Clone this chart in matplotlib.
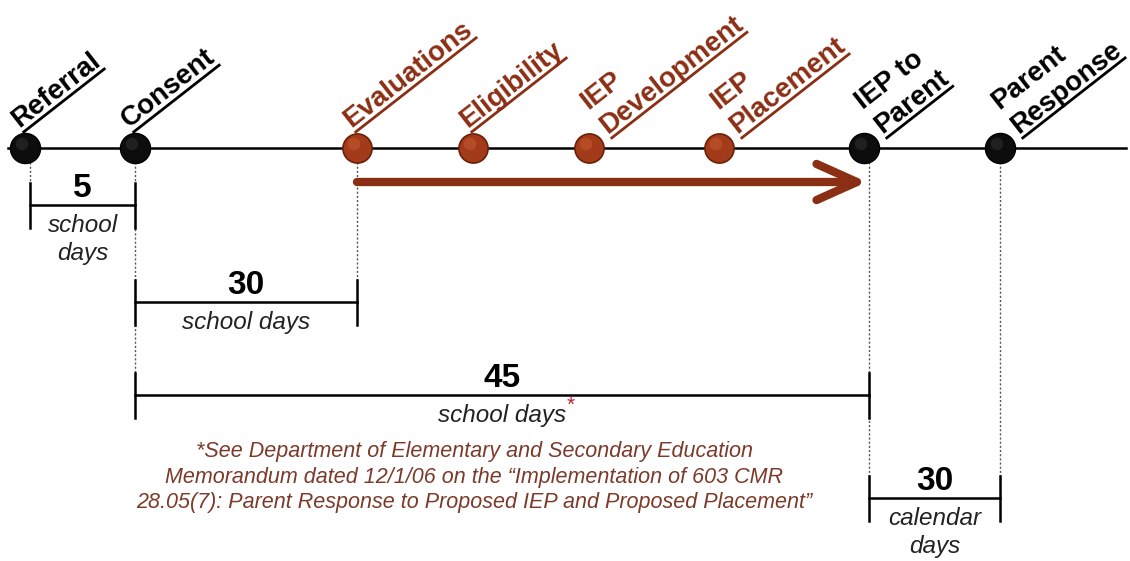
import numpy as np
import matplotlib.pyplot as plt

# timeline events (position along the line, label lines, colour group)
events = ['Referral', 'Consent', 'Evaluations', 'Eligibility', 'IEP\nDevelopment',
          'IEP\nPlacement', 'IEP to\nParent', 'Parent\nResponse']
event_pos = [25, 135, 357, 473, 589, 719, 864, 1000]
event_group = ['key', 'key', 'eval', 'eval', 'eval', 'eval', 'key', 'key']

# time spans between events: (start event, end event, number, unit lines)
span_start = [0, 1, 1, 6]
span_end = [1, 2, 6, 7]
span_value = ['5', '30', '45', '30']
span_unit = ['school\ndays', 'school days', 'school days', 'calendar\ndays']
span_level = [205, 302, 395, 498]

footnote = ['*See Department of Elementary and Secondary Education',
            'Memorandum dated 12/1/06 on the \u201cImplementation of 603 CMR',
            '28.05(7): Parent Response to Proposed IEP and Proposed Placement\u201d']

BROWN = '#8b2f14'
BROWN_TXT = '#7b3a2a'
W, H = 1130, 561
LINE_Y = 148
ANG = 38

fig = plt.figure(figsize=(W / 100, H / 100), dpi=100)
ax = fig.add_axes([0, 0, 1, 1])
ax.set_xlim(0, W)
ax.set_ylim(H, 0)
ax.axis('off')

# main timeline with arrow at the right edge
ax.plot([8, W - 4], [LINE_Y, LINE_Y], color='black', lw=1.8, zorder=1)
ax.annotate('', xy=(W + 2, LINE_Y), xytext=(W - 12, LINE_Y),
            arrowprops=dict(arrowstyle='->', color='black', lw=1.5, mutation_scale=12))

# process arrow from evaluations to IEP to parent
ax.annotate('', xy=(event_pos[6] + 3, 182), xytext=(event_pos[2], 182),
            arrowprops=dict(arrowstyle='->,head_length=1.45,head_width=0.65',
                            color=BROWN, lw=6, mutation_scale=20, shrinkA=0, shrinkB=0),
            zorder=2)

# dots
for x, g in zip(event_pos, event_group):
    if g == 'key':
        ax.scatter([x], [LINE_Y], s=470, color='#0d0d0d', edgecolors='#000000', zorder=3)
        ax.scatter([x - 3], [LINE_Y - 4], s=80, color='#333333', edgecolors='none', zorder=4, alpha=0.5)
    else:
        ax.scatter([x], [LINE_Y], s=440, color='#a33b1a', edgecolors='#6b2008', lw=1.2, zorder=3)
        ax.scatter([x - 3], [LINE_Y - 4], s=80, color='#c4592f', edgecolors='none', zorder=4, alpha=0.6)

# labels, rotated with the last line underlined
fig.canvas.draw()
renderer = fig.canvas.get_renderer()
th = np.deg2rad(ANG)
along = np.array([np.cos(th), -np.sin(th)])
perp_up = np.array([-np.sin(th), -np.cos(th)])
fs = 20
lh = 31
for x, name, g in zip(event_pos, events, event_group):
    col = 'black' if g == 'key' else BROWN
    lines = name.split('\n')
    if len(lines) == 1:
        base = np.array([x - 6, 128])
    else:
        base = np.array([x + 18, 134])
    for k, line in enumerate(reversed(lines)):
        p = base + perp_up * lh * k
        ax.text(p[0], p[1], line, rotation=ANG, rotation_mode='anchor',
                ha='left', va='baseline', fontsize=fs, fontweight='bold',
                family='Liberation Sans', color=col)
        if k == 0:
            tmp = ax.text(0, 0, line, fontsize=fs, fontweight='bold', family='Liberation Sans')
            wpx = tmp.get_window_extent(renderer).width
            tmp.remove()
            u0 = p - perp_up * 6
            u1 = u0 + along * wpx
            ax.plot([u0[0], u1[0]], [u0[1], u1[1]], color=col, lw=2, solid_capstyle='butt')

# dotted guides and span brackets
shift = {0: 5, 6: 5}
guide_bottom = {0: 185, 1: 375, 2: 280, 6: 480, 7: 480}
for i, yb in guide_bottom.items():
    x = event_pos[i] + shift.get(i, 0)
    ax.plot([x, x], [LINE_Y + 14, yb], color='#555555', lw=1, ls=(0, (1.5, 1.5)), zorder=0)

unit_texts = []
for s, e, v, u, yl in zip(span_start, span_end, span_value, span_unit, span_level):
    x0 = event_pos[s] + shift.get(s, 0)
    x1 = event_pos[e] + shift.get(e, 0)
    ax.plot([x0, x1], [yl, yl], color='black', lw=1.8)
    for xx in (x0, x1):
        ax.plot([xx, xx], [yl - 22, yl + 23], color='black', lw=1.8)
    xc = (x0 + x1) / 2
    ax.text(xc, yl - 8, v, ha='center', va='baseline', fontsize=24, fontweight='bold',
            family='Liberation Sans')
    for k, ul in enumerate(u.split('\n')):
        t = ax.text(xc, yl + 27 + 28 * k, ul, ha='center', va='baseline', fontsize=17.5,
                    style='italic', family='Liberation Sans', color='#222222')
    unit_texts.append(t)

# red asterisk after "school days" for 45
bb = unit_texts[2].get_window_extent(renderer)
ax.text(bb.x1 + 1, span_level[2] + 16, '*', ha='left', va='baseline', fontsize=15,
        color='#c0202a', family='Liberation Sans')

for k, fl in enumerate(footnote):
    ax.text(474, 457 + 25.5 * k, fl, ha='center', va='baseline', fontsize=15.5, style='italic',
            family='Liberation Sans', color=BROWN_TXT)

fig.savefig('out.png', dpi=100)
